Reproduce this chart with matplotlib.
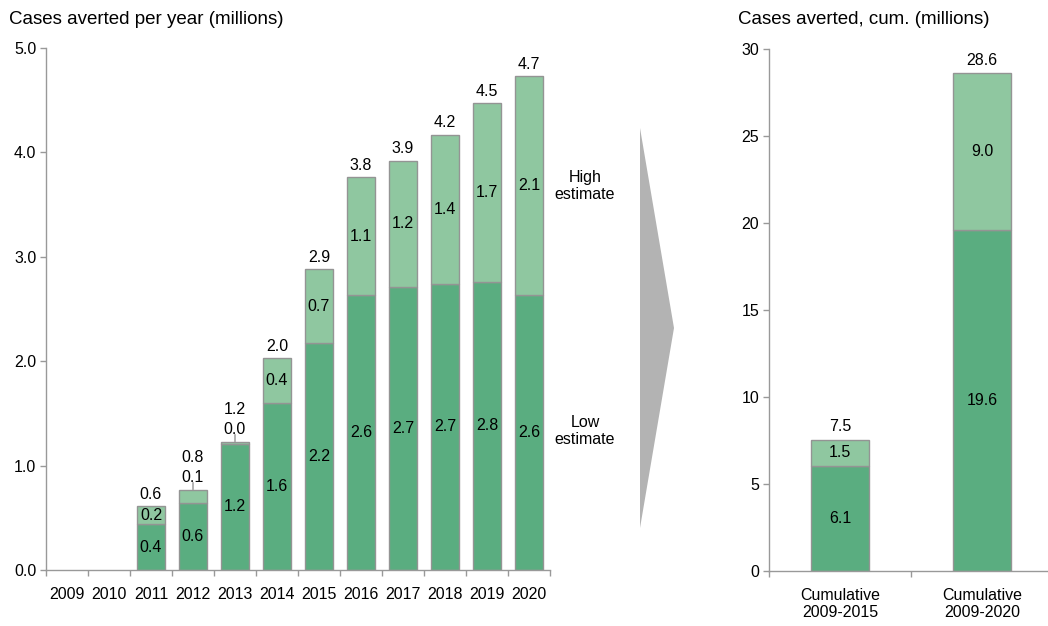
import matplotlib
matplotlib.use("Agg")
import matplotlib.pyplot as plt
from matplotlib.patches import Polygon

plt.rcParams['font.family'] = ['Liberation Sans', 'DejaVu Sans']

# Annual cases averted (millions)
years = ["2009", "2010", "2011", "2012", "2013", "2014", "2015",
         "2016", "2017", "2018", "2019", "2020"]
low_est = [0.0, 0.0, 0.44, 0.64, 1.21, 1.60, 2.17, 2.63, 2.71, 2.74, 2.76, 2.63]
high_extra = [0.0, 0.0, 0.17, 0.13, 0.02, 0.43, 0.71, 1.13, 1.21, 1.43, 1.71, 2.10]

# Cumulative cases averted (millions)
cum_labels = ["Cumulative\n2009-2015", "Cumulative\n2009-2020"]
cum_low = [6.06, 19.6]
cum_high_extra = [1.47, 9.0]

DARK = "#5aad80"
LIGHT = "#8fc7a0"
EDGE = "#949494"
AXIS = "#999999"
FS = 11.5
TICK_FS = 11.5
TITLE_FS = 13.5

fig = plt.figure(figsize=(10.48, 6.26), dpi=100)
ax1 = fig.add_axes([46 / 1048, 0.0895, 504 / 1048, 0.8338])
ax2 = fig.add_axes([769 / 1048, 0.0879, 284 / 1048, 0.8338])


def style_axis(ax):
    for s in ("top", "right"):
        ax.spines[s].set_visible(False)
    for s in ("left", "bottom"):
        ax.spines[s].set_color(AXIS)
        ax.spines[s].set_linewidth(1.0)
    ax.tick_params(axis="y", colors=AXIS, labelcolor="black", labelsize=TICK_FS,
                   length=4, width=1, pad=3)
    ax.tick_params(axis="x", which="major", length=0, labelsize=TICK_FS, pad=12)
    ax.tick_params(axis="x", which="minor", colors=AXIS, length=4, width=1)


def hide_empty(bars):
    for b in bars:
        if b.get_height() <= 0:
            b.set_visible(False)


# ---- Left panel: per year ----
x = list(range(len(years)))
w = 0.65
hide_empty(ax1.bar(x, low_est, w, color=DARK, edgecolor=EDGE, linewidth=1))
hide_empty(ax1.bar(x, high_extra, w, bottom=low_est, color=LIGHT,
                   edgecolor=EDGE, linewidth=1))
ax1.set_xlim(-0.5, 11.5)
ax1.set_ylim(0, 5.0)
ax1.set_yticks([0, 1, 2, 3, 4, 5])
ax1.set_yticklabels([f"{v:.1f}" for v in [0, 1, 2, 3, 4, 5]])
ax1.set_xticks(x)
ax1.set_xticklabels(years)
ax1.set_xticks([i - 0.5 for i in x] + [11.5], minor=True)
style_axis(ax1)

for i in x:
    lo, hi = low_est[i], high_extra[i]
    tot = lo + hi
    if tot <= 0:
        continue
    ax1.text(i, lo / 2, f"{lo:.1f}", ha="center", va="center", fontsize=FS)
    if hi >= 0.15:
        ax1.text(i, lo + hi / 2, f"{hi:.1f}", ha="center", va="center", fontsize=FS)
        ax1.annotate(f"{tot:.1f}", (i, tot), xytext=(0, 8.5), textcoords="offset points",
                     ha="center", va="center", fontsize=FS)
    else:
        ax1.annotate("", (i, tot), xytext=(0, 5), textcoords="offset points",
                     arrowprops=dict(arrowstyle="-", color=EDGE, lw=1,
                                     shrinkA=0, shrinkB=0))
        ax1.annotate(f"{hi:.1f}", (i, tot), xytext=(0, 8.5), textcoords="offset points",
                     ha="center", va="center", fontsize=FS)
        ax1.annotate(f"{tot:.1f}", (i, tot), xytext=(0, 23), textcoords="offset points",
                     ha="center", va="center", fontsize=FS)

fig.text(585 / 1048, 1 - 186 / 626, "High\nestimate", ha="center", va="center",
         fontsize=FS, linespacing=1.15)
fig.text(585 / 1048, 1 - 431 / 626, "Low\nestimate", ha="center", va="center",
         fontsize=FS, linespacing=1.15)

# ---- Arrow between panels ----
arrow = Polygon([(640 / 1048, 1 - 128 / 626), (674 / 1048, 1 - 328 / 626),
                 (640 / 1048, 1 - 528 / 626)], closed=True,
                transform=fig.transFigure, facecolor="#b3b3b3", edgecolor="none")
fig.patches.append(arrow)

# ---- Right panel: cumulative ----
xc = [0, 1]
wc = 0.41
ax2.bar(xc, cum_low, wc, color=DARK, edgecolor=EDGE, linewidth=1)
ax2.bar(xc, cum_high_extra, wc, bottom=cum_low, color=LIGHT, edgecolor=EDGE, linewidth=1)
ax2.set_xlim(-0.5, 1.5)
ax2.set_ylim(0, 30)
ax2.set_yticks([0, 5, 10, 15, 20, 25, 30])
ax2.set_xticks(xc)
ax2.set_xticklabels(cum_labels, linespacing=1.2)
ax2.set_xticks([-0.5, 0.5], minor=True)
style_axis(ax2)

for i in xc:
    lo, hi = cum_low[i], cum_high_extra[i]
    tot = lo + hi
    ax2.text(i, lo / 2, f"{lo:.1f}", ha="center", va="center", fontsize=FS)
    ax2.text(i, lo + hi / 2, f"{hi:.1f}", ha="center", va="center", fontsize=FS)
    ax2.annotate(f"{tot:.1f}", (i, tot), xytext=(0, 9.5), textcoords="offset points",
                 ha="center", va="center", fontsize=FS)

fig.text(9 / 1048, 1 - 20 / 626, "Cases averted per year (millions)",
         ha="left", va="center", fontsize=TITLE_FS)
fig.text(738 / 1048, 1 - 20 / 626, "Cases averted, cum. (millions)",
         ha="left", va="center", fontsize=TITLE_FS)

fig.savefig("out.png", dpi=100)
